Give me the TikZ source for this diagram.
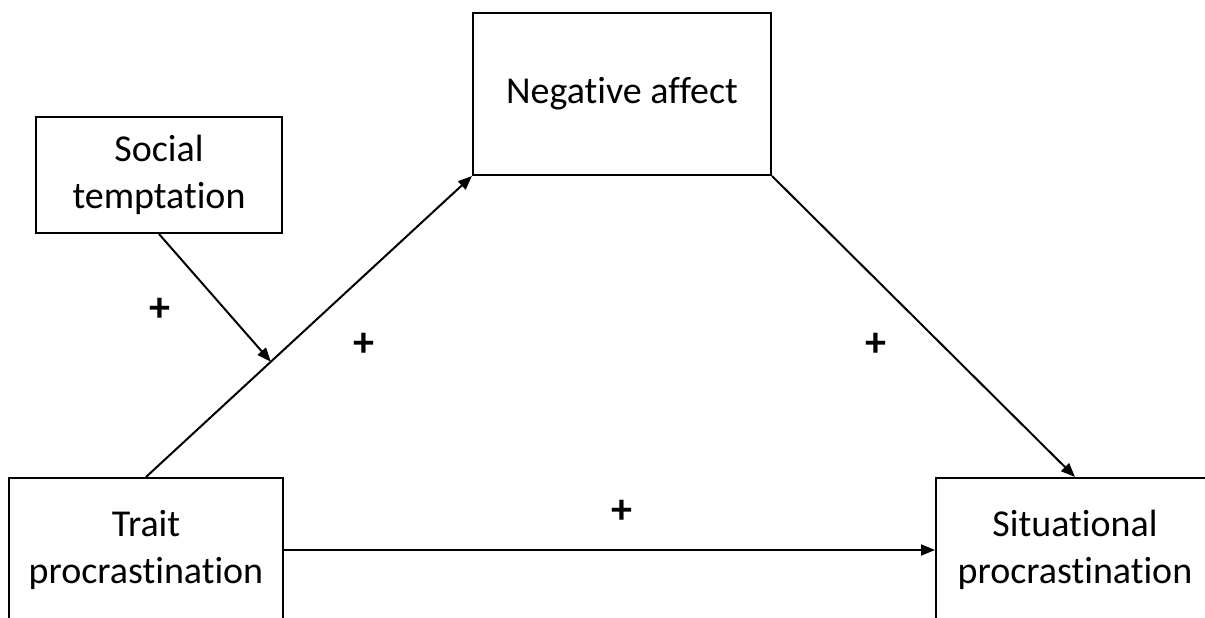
\documentclass[tikz,border=0pt]{standalone}
\usepackage{fontspec}
\setmainfont{Carlito}[Ligatures=NoCommon]
\usetikzlibrary{arrows.meta,calc}
\begin{document}
\begin{tikzpicture}[x=1pt,y=-1pt,
  box/.style={draw=black,line width=2pt,align=center,inner sep=0pt,
    font=\fontsize{38}{47}\selectfont},
  conn/.style={line width=2pt,-{Triangle[length=14pt,width=11pt]}},
  sign/.style={font=\fontsize{42}{44}\selectfont\bfseries,inner sep=0pt}]
\useasboundingbox (0,0) rectangle (1205,618);
\clip (0,0) rectangle (1205,618);
\fill[white] (0,0) rectangle (1205,618);
\node[box,minimum width=298pt,minimum height=162pt] (neg) at (622,94) {Negative affect};
\node[box,minimum width=246pt,minimum height=116pt] (soc) at (159,175) {Social\\temptation};
\node[box,minimum width=274pt,minimum height=144pt] (trait) at (146,550) {Trait\\procrastination};
\node[box,minimum width=278pt,minimum height=144pt] (sit) at (1075,550) {Situational\\procrastination};
\coordinate (mod) at ($(trait.north)!0.383!(neg.south west)$);
\draw[conn] (trait.north) -- (neg.south west);
\draw[conn] (soc.south) -- (mod);
\draw[conn] (neg.south east) -- (sit.north);
\draw[conn] (trait.east) -- (sit.west);
\node[sign] (p1) at (160,310) {+};
\node[sign] (p2) at (364,345) {+};
\node[sign] (p3) at (876,345) {+};
\node[sign] (p4) at (622,512) {+};
\end{tikzpicture}
\end{document}
